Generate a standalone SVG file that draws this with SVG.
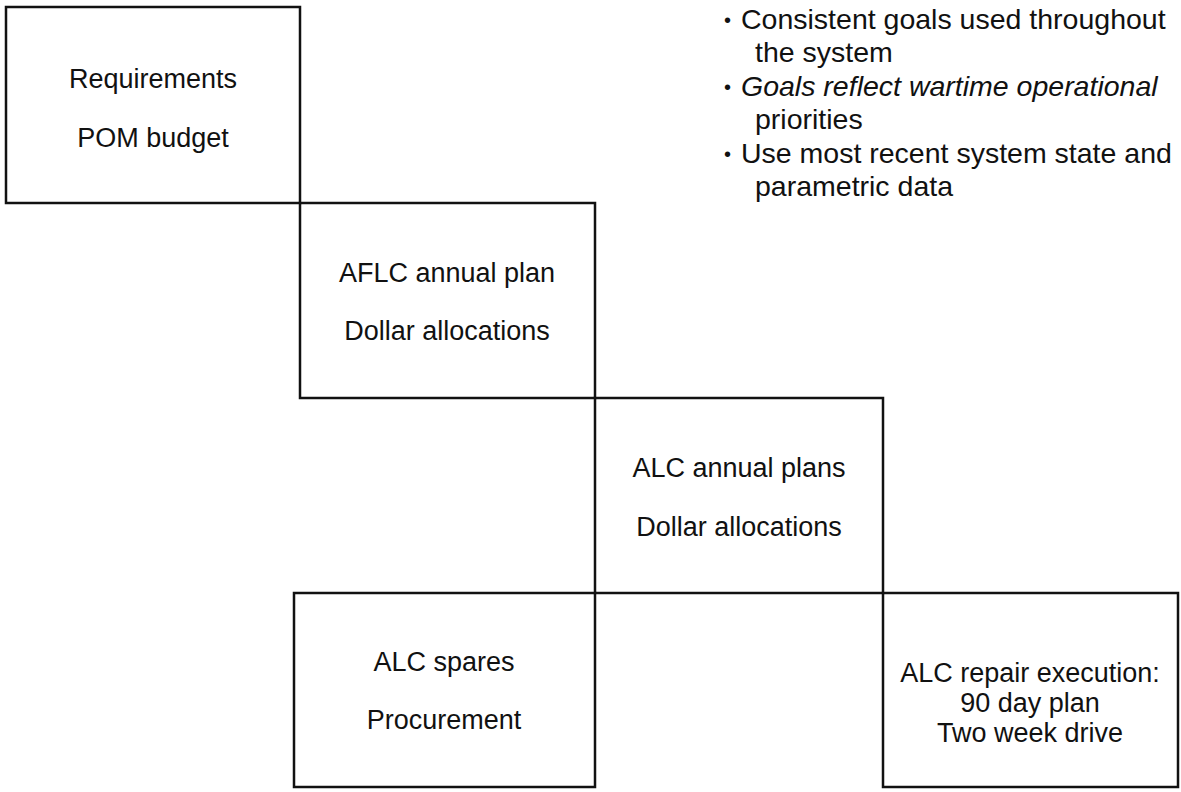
<svg xmlns="http://www.w3.org/2000/svg" width="1181" height="792" viewBox="0 0 1181 792">
<style>
.box{fill:none;stroke:#111;stroke-width:2.5}
.t{font-family:"Liberation Sans",Arial,sans-serif;font-size:27px;fill:#111;text-anchor:middle}
.b{font-family:"Liberation Sans",Arial,sans-serif;font-size:28.5px;fill:#111}
.d{font-family:"Liberation Sans",Arial,sans-serif;font-size:20px;fill:#111}
.i{font-style:italic}
</style>
<rect width="1181" height="792" fill="#fff"/>
<g id="requirements">
<rect class="box" x="6" y="7" width="294" height="196"/>
<text class="t" x="153" y="88">Requirements</text>
<text class="t" x="153" y="147">POM budget</text>
</g>
<g id="aflc">
<rect class="box" x="300" y="203" width="295" height="195"/>
<text class="t" x="447" y="282">AFLC annual plan</text>
<text class="t" x="447" y="340">Dollar allocations</text>
</g>
<g id="alc-plans">
<rect class="box" x="595" y="398" width="288" height="195"/>
<text class="t" x="739" y="477">ALC annual plans</text>
<text class="t" x="739" y="536">Dollar allocations</text>
</g>
<g id="alc-spares">
<rect class="box" x="294" y="593" width="301" height="194"/>
<text class="t" x="444" y="671">ALC spares</text>
<text class="t" x="444" y="729">Procurement</text>
</g>
<g id="alc-repair">
<rect class="box" x="883" y="593" width="295" height="194"/>
<text class="t" x="1030" y="682">ALC repair execution:</text>
<text class="t" x="1030" y="712">90 day plan</text>
<text class="t" x="1030" y="742">Two week drive</text>
</g>
<g id="connectors"></g>
<g id="notes">
<text class="d" x="724" y="27">•</text>
<text class="b" x="741" y="29">Consistent goals used throughout</text>
<text class="b" x="755" y="62">the system</text>
<text class="d" x="724" y="94">•</text>
<text class="b i" x="741" y="96">Goals reflect wartime operational</text>
<text class="b" x="755" y="129">priorities</text>
<text class="d" x="724" y="161">•</text>
<text class="b" x="741" y="163">Use most recent system state and</text>
<text class="b" x="755" y="196">parametric data</text>
</g>
</svg>
